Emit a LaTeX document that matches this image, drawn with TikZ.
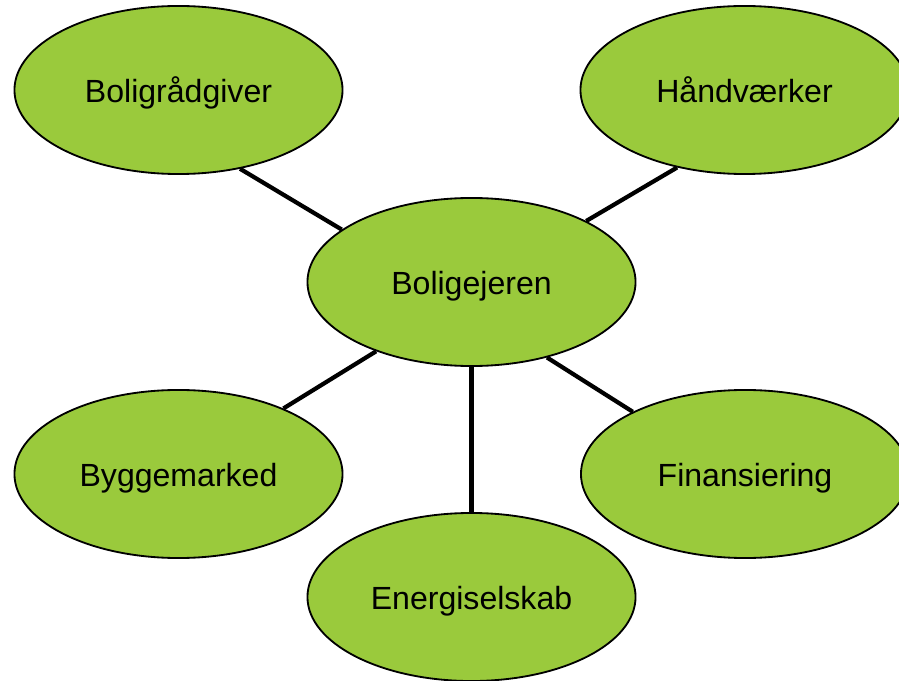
\documentclass[tikz,border=0pt]{standalone}
\usepackage{fontspec}
\setmainfont{Liberation Sans}
\usetikzlibrary{shapes.geometric}
\definecolor{leafgreen}{RGB}{154,202,60}

\begin{document}
\begin{tikzpicture}[x=0.025cm,y=-0.025cm,
  bubble/.style={ellipse,draw,line width=1.3pt,fill=leafgreen,
    minimum width=8.2cm,minimum height=4.2cm,inner sep=0pt,
    font=\fontsize{22.8}{27}\selectfont,text height=18.4pt,text depth=0pt},
  spoke/.style={line width=3pt}]

  \useasboundingbox (0,0) rectangle (899,681);

  % centre bubble
  \node[bubble] (owner) at (471.5,282) {Boligejeren};

  % outer bubbles
  \foreach \name/\x/\y/\txt in {adv/178.5/90/Boligrådgiver,craft/744.5/90/Håndværker,
      store/178.5/474/Byggemarked,fin/745/474/Finansiering,energy/471.5/597/Energiselskab} {
    \node[bubble] (\name) at (\x,\y) {\txt};
  }

  % spokes
  \foreach \a/\b in {adv.-52/owner.158,craft.-131/owner.28,store.32/owner.216,
      fin.151/owner.-45,energy.north/owner.south} {
    \draw[spoke] (\a) -- (\b);
  }

\end{tikzpicture}
\end{document}
